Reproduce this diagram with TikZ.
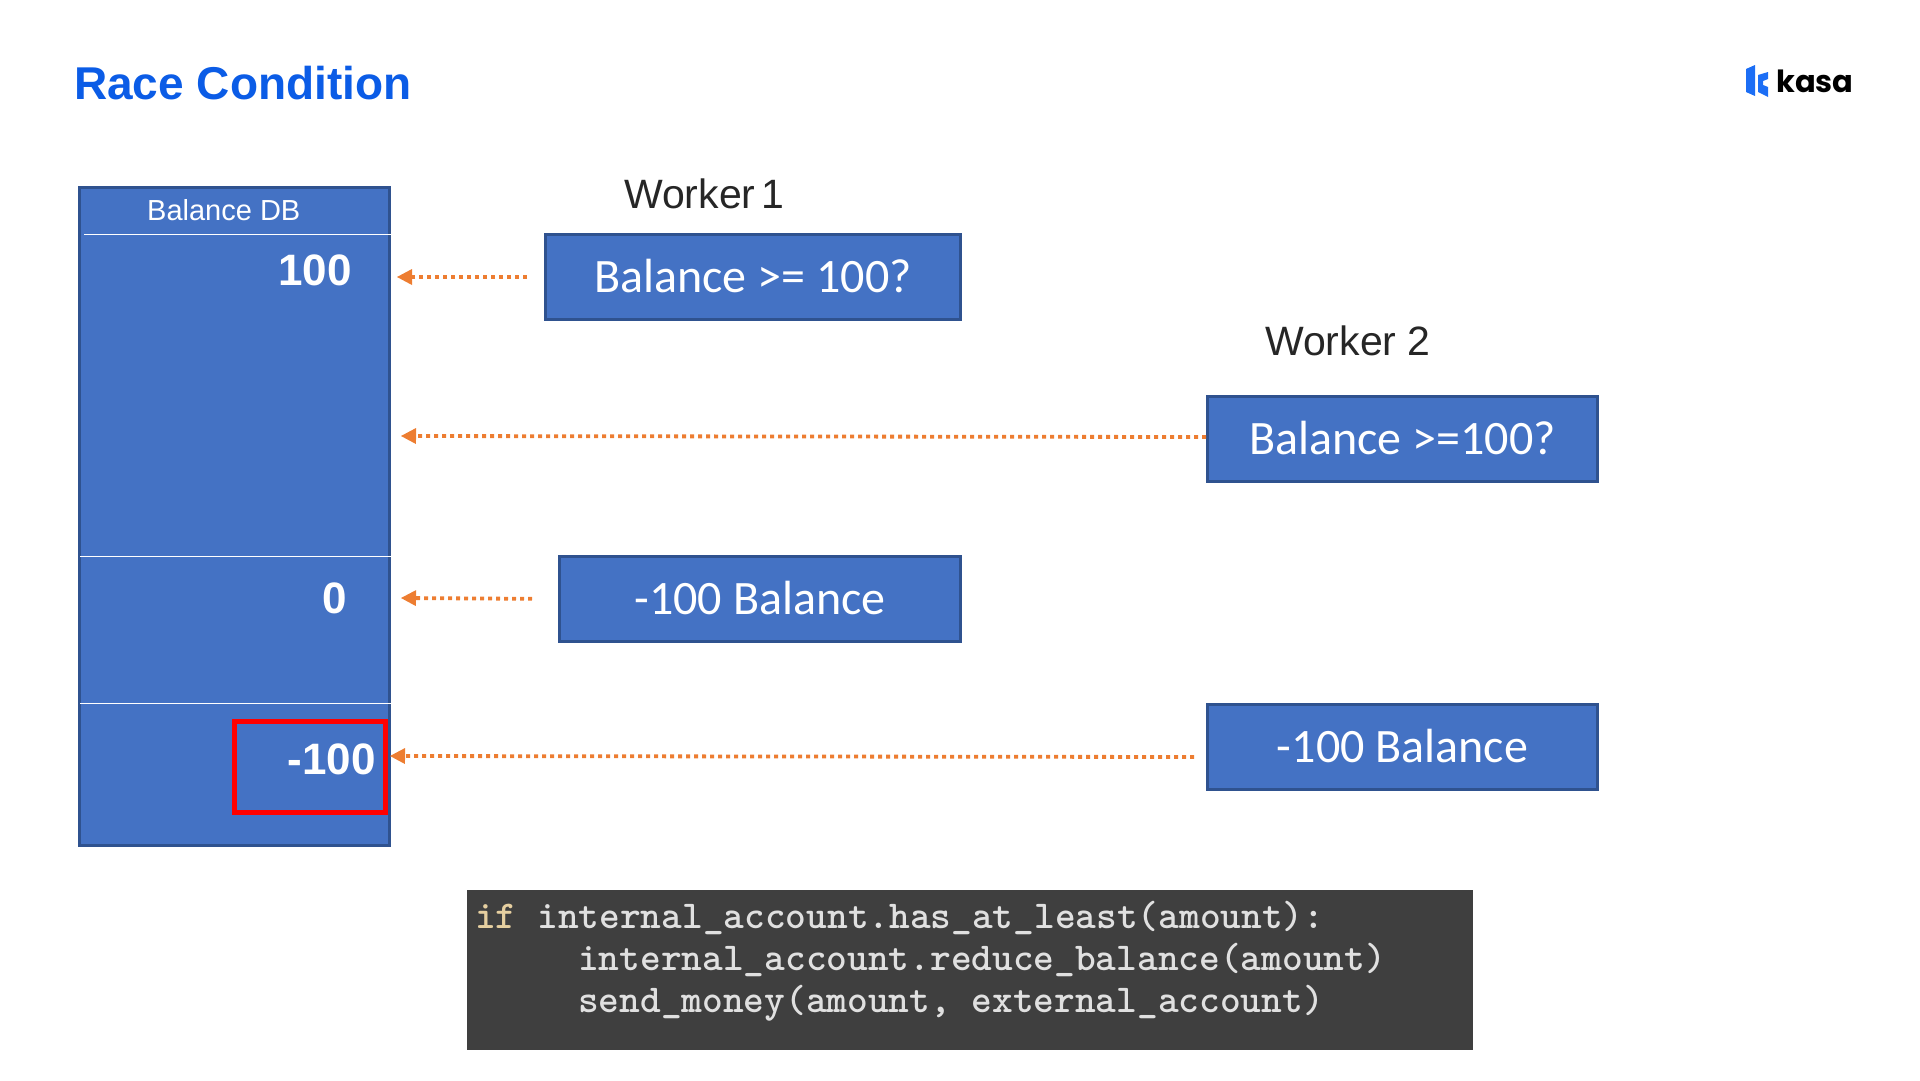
\documentclass[tikz,border=0pt]{standalone}
\usepackage{fontspec}
\usepackage{tikz}
\setmainfont{Liberation Sans}
\newfontfamily\boxfont{Carlito}
\newfontfamily\logofont{Poppins}
\usetikzlibrary{arrows.meta}
\definecolor{slideblue}{HTML}{4472C4}
\definecolor{slideedge}{HTML}{2F528F}
\definecolor{flowcolor}{HTML}{ED7D31}
\definecolor{titleblue}{HTML}{0B5CE6}
\definecolor{logoblue}{HTML}{1C6EF5}
\definecolor{codegray}{HTML}{3F3F3F}

\begin{document}
\begin{tikzpicture}[
x=1pt,
y=-1pt,
every node/.style={inner sep=0pt},
dbbox/.style={
    draw=slideedge,
    fill=slideblue,
    line width=3pt,
    minimum width=310pt,
    minimum height=658pt
},
workerbox/.style={
    draw=slideedge,
    fill=slideblue,
    line width=3pt,
    text=white,
    font=\boxfont\fontsize{48}{48}\selectfont,
    minimum height=85pt,
    text height=31.5pt,
    text depth=0pt
},
workerlabel/.style={
    anchor=base west,
    text=black!85,
    font=\fontsize{41}{41}\selectfont
},
dbvalue/.style={
    anchor=base east,
    text=white,
    font=\bfseries\fontsize{44}{44}\selectfont
},
flowarrow/.style={
    draw=flowcolor,
    line width=3.8pt,
    dash pattern=on 3.8pt off 4.2pt,
    -{Triangle[length=15pt,width=16pt,fill=flowcolor,line width=0pt]}
},
rowline/.style={
    draw=white,
    line width=1pt
},
codeline/.style={
    anchor=base west,
    text=black!12,
    font=\ttfamily\bfseries\fontsize{39.45}{39.45}\selectfont
}
]

\useasboundingbox (0,0) rectangle (1920,1080);

\node[anchor=base west, text=titleblue, font=\bfseries\fontsize{46}{46}\selectfont] (title) at (74,99) {Race Condition};

% balance column
\node[dbbox] (balancedb) at (234.5,516.5) {};
\draw[rowline] (84,234) -- (391,234);
\foreach \rowy in {556,703} {
    \draw[rowline] (80,\rowy) -- (391,\rowy);
}
\node[anchor=base west, text=white, font=\fontsize{29}{29}\selectfont] (dbname) at (147,220) {Balance DB};
\node[dbvalue] (valhundred) at (352,285) {100};
\node[dbvalue] (valzero) at (347,613) {0};
\node[draw=red, line width=5pt, minimum width=151pt, minimum height=91pt] (redmark) at (310,767) {};
\node[dbvalue] (valminus) at (376,774) {-100};

% workers
\node[workerlabel] (workerone) at (624,208) {Worker\hspace{-5pt} 1};
\node[workerlabel] (workertwo) at (1265,355) {Worker 2};
\node[workerbox, minimum width=415pt] (checkone) at (753,277) {Balance >= 100?};
\node[workerbox, minimum width=390pt] (checktwo) at (1402.5,438.5) {Balance >=100?};
\node[workerbox, minimum width=401pt] (reduceone) at (760,599) {-100 Balance};
\node[workerbox, minimum width=390pt] (reducetwo) at (1402.5,746.5) {-100 Balance};

\coordinate (tipa) at (397,277);
\coordinate (tipb) at (401,436);
\coordinate (tipc) at (401,598);
\coordinate (tipd) at (390,756);

\draw[flowarrow, shorten <=17pt] (checkone.west) -- (tipa);
\draw[flowarrow] ([yshift=1.5pt]checktwo.west) -- (tipb);
\draw[flowarrow, shorten <=26pt] (reduceone.west) -- (tipc);
\draw[flowarrow, shorten <=12pt] ([yshift=-10.5pt]reducetwo.west) -- (tipd);

% code
\node[fill=codegray, minimum width=1006pt, minimum height=160pt] (codebox) at (970,970) {};
\node[codeline] (codea) at (475,928) {\textcolor[HTML]{E6CFA0}{if} internal\_account.has\_at\_least(amount):};
\node[codeline] (codeb) at (578,970) {internal\_account.reduce\_balance(amount)};
\node[codeline] (codec) at (578,1012) {send\_money(amount, external\_account)};

% logo
\fill[logoblue] (1746,69) -- (1755,65) -- (1755,96) -- (1746,92) -- cycle;
\fill[logoblue] (1758,75) -- (1768,72) -- (1768,79) -- (1763,81) -- (1763,85) -- (1768,87) -- (1768,97) -- (1758,92) -- cycle;
\node[anchor=base west, font=\logofont\bfseries\fontsize{30.5}{30.5}\selectfont] (logotext) at (1776,92) {kasa};

\end{tikzpicture}
\end{document}
